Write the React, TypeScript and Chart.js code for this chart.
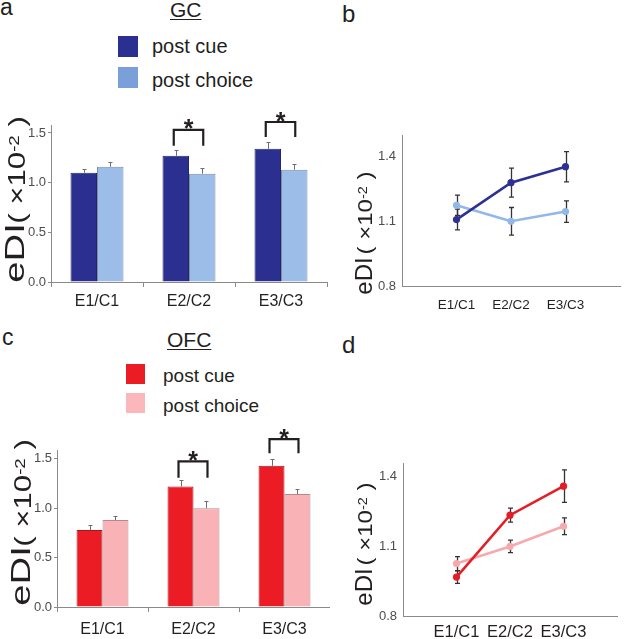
import React, { useEffect, useRef } from 'react';
import { Chart, registerables } from 'chart.js';
Chart.register(...registerables);

const FONT = "'Liberation Sans', Arial, Helvetica, sans-serif";

// ---------- data ----------
const categories = ['E1/C1', 'E2/C2', 'E3/C3'];
const seriesNames = ['post cue', 'post choice'];

// GC – bar panel (a)
const gcCueBar = [1.10, 1.27, 1.34];
const gcChoiceBar = [1.16, 1.09, 1.13];
const gcCueBarErr = [0.04, 0.06, 0.07];
const gcChoiceBarErr = [0.05, 0.06, 0.06];
// GC – line panel (b)
const gcCueLine = [1.108, 1.279, 1.353];
const gcChoiceLine = [1.174, 1.10, 1.145];
const gcCueLineErr = [0.048, 0.067, 0.07];
const gcChoiceLineErr = [0.047, 0.064, 0.05];

// OFC – bar panel (c)
const ofcCueBar = [0.78, 1.22, 1.43];
const ofcChoiceBar = [0.88, 1.00, 1.145];
const ofcCueBarErr = [0.05, 0.07, 0.07];
const ofcChoiceBarErr = [0.045, 0.07, 0.045];
// OFC – line panel (d)
const ofcCueLine = [0.968, 1.235, 1.36];
const ofcChoiceLine = [1.026, 1.10, 1.187];
const ofcCueLineErr = [0.027, 0.03, 0.07];
const ofcChoiceLineErr = [0.03, 0.027, 0.036];

// tick values
const barTicks = [0, 0.5, 1.0, 1.5];
const lineTicks = [0.8, 1.1, 1.4];

// significance brackets (category index, leg base, bracket top, star level) in data units
const gcBrackets = [
  { index: 1, base: 1.37, top: 1.53, star: 1.60 },
  { index: 2, base: 1.46, top: 1.61, star: 1.67 },
];
const ofcBrackets = [
  { index: 1, base: 1.31, top: 1.475, star: 1.54 },
  { index: 2, base: 1.557, top: 1.70, star: 1.76 },
];

// ---------- plugins ----------
const barErrPlugin = {
  id: 'barErr',
  afterDatasetsDraw(chart: any) {
    const ctx = chart.ctx;
    const ys = chart.scales.y;
    chart.data.datasets.forEach((ds: any, i: number) => {
      const meta = chart.getDatasetMeta(i);
      meta.data.forEach((el: any, j: number) => {
        const v = ds.data[j];
        const e = ds.errors[j];
        const x = Math.round(el.x) + 0.5;
        const y0 = ys.getPixelForValue(v);
        const y1 = Math.round(ys.getPixelForValue(v + e)) + 0.5;
        ctx.save();
        ctx.strokeStyle = '#6d6e71';
        ctx.lineWidth = 1;
        ctx.beginPath();
        ctx.moveTo(x, y0);
        ctx.lineTo(x, y1);
        ctx.moveTo(x - 2, y1);
        ctx.lineTo(x + 2, y1);
        ctx.stroke();
        ctx.restore();
      });
    });
  },
};

const bracketPlugin = {
  id: 'brackets',
  afterDraw(chart: any, _args: any, opts: any) {
    const items = opts.items || [];
    const ctx = chart.ctx;
    const ys = chart.scales.y;
    const m0 = chart.getDatasetMeta(0);
    const m1 = chart.getDatasetMeta(1);
    items.forEach((b: any) => {
      const x0 = m0.data[b.index].x - 2;
      const x1 = m1.data[b.index].x + 1;
      const yb = ys.getPixelForValue(b.base);
      const yt = ys.getPixelForValue(b.top);
      ctx.save();
      ctx.strokeStyle = '#231f20';
      ctx.lineWidth = 2.2;
      ctx.lineJoin = 'miter';
      ctx.beginPath();
      ctx.moveTo(x0, yb);
      ctx.lineTo(x0, yt);
      ctx.lineTo(x1, yt);
      ctx.lineTo(x1, yb);
      ctx.stroke();
      const size = 25;
      ctx.font = `bold ${size}px ${FONT}`;
      ctx.fillStyle = '#231f20';
      ctx.textAlign = 'center';
      ctx.textBaseline = 'alphabetic';
      const ys2 = ys.getPixelForValue(b.star);
      ctx.fillText('*', (x0 + x1) / 2, ys2 + 0.57 * size);
      ctx.restore();
    });
  },
};

const lineErrPlugin = {
  id: 'lineErr',
  beforeDatasetsDraw(chart: any) {
    const ctx = chart.ctx;
    const ys = chart.scales.y;
    chart.data.datasets.forEach((ds: any, i: number) => {
      const meta = chart.getDatasetMeta(i);
      meta.data.forEach((el: any, j: number) => {
        const v = ds.data[j].y;
        const e = ds.errors[j];
        const x = Math.round(el.x) + 0.5;
        const ya = ys.getPixelForValue(v + e);
        const yb = ys.getPixelForValue(v - e);
        ctx.save();
        ctx.strokeStyle = '#333333';
        ctx.lineWidth = 1.3;
        ctx.beginPath();
        ctx.moveTo(x, ya);
        ctx.lineTo(x, yb);
        ctx.moveTo(x - 2.5, ya);
        ctx.lineTo(x + 2.5, ya);
        ctx.moveTo(x - 2.5, yb);
        ctx.lineTo(x + 2.5, yb);
        ctx.stroke();
        ctx.restore();
      });
    });
  },
};

// ---------- chart builders ----------
const AXIS = '#8a8a8a';

function barConfig(s: any) {
  return {
    type: 'bar',
    data: {
      labels: categories,
      datasets: [
        {
          label: seriesNames[0], data: s.cue, errors: s.cueErr,
          backgroundColor: s.c1, borderColor: s.b1, borderWidth: 1,
          categoryPercentage: s.catPct, barPercentage: 1,
        },
        {
          label: seriesNames[1], data: s.choice, errors: s.choiceErr,
          backgroundColor: s.c2, borderColor: s.b2, borderWidth: 1,
          categoryPercentage: s.catPct, barPercentage: 1,
        },
      ],
    },
    options: {
      responsive: false,
      animation: false,
      events: [],
      layout: { padding: { left: 0, top: s.pt, right: s.pr, bottom: 0 } },
      plugins: {
        legend: { display: false },
        tooltip: { enabled: false },
        brackets: { items: s.brackets },
      },
      scales: {
        x: {
          type: 'category',
          offset: true,
          grid: { display: true, offset: true, drawOnChartArea: false, drawTicks: true, tickLength: 5, color: AXIS },
          border: { display: true, color: AXIS, width: 1 },
          ticks: { font: { family: FONT, size: s.xFont }, color: '#231f20', padding: s.xPad, maxRotation: 0, autoSkip: false },
          afterFit: (sc: any) => { sc.height = s.xH; },
        },
        y: {
          min: 0,
          max: s.yMax,
          afterBuildTicks: (sc: any) => { sc.ticks = barTicks.map((v) => ({ value: v })); },
          grid: { display: true, drawOnChartArea: false, drawTicks: true, tickLength: 3, color: AXIS },
          border: { display: true, color: AXIS, width: 1 },
          ticks: { font: { family: FONT, size: 13 }, color: '#4d4d4d', padding: 2, callback: (v: any) => Number(v).toFixed(1) },
          afterFit: (sc: any) => { sc.width = s.yW; },
        },
      },
    },
    plugins: [barErrPlugin, bracketPlugin],
  };
}

function lineConfig(s: any) {
  const mk = (vals: number[]) => vals.map((v, i) => ({ x: i + 1, y: v }));
  return {
    type: 'line',
    data: {
      datasets: [
        {
          label: seriesNames[0], data: mk(s.cue), errors: s.cueErr,
          borderColor: s.c1, backgroundColor: s.c1, pointBackgroundColor: s.c1,
          pointRadius: 3.6, pointBorderWidth: 0, borderWidth: 2.6, tension: 0,
        },
        {
          label: seriesNames[1], data: mk(s.choice), errors: s.choiceErr,
          borderColor: s.c2, backgroundColor: s.c2, pointBackgroundColor: s.c2,
          pointRadius: 3.6, pointBorderWidth: 0, borderWidth: 2.6, tension: 0,
        },
      ],
    },
    options: {
      responsive: false,
      animation: false,
      events: [],
      layout: { padding: { left: 0, top: s.pt, right: s.pr, bottom: 0 } },
      plugins: { legend: { display: false }, tooltip: { enabled: false } },
      scales: {
        x: {
          type: 'linear',
          min: 0,
          max: categories.length + 1,
          afterBuildTicks: (sc: any) => { sc.ticks = categories.map((_, i) => ({ value: i + 1 })); },
          grid: { display: false, drawTicks: false },
          border: { display: true, color: AXIS, width: 1 },
          ticks: { font: { family: FONT, size: s.xFont }, color: '#231f20', padding: s.xPad, maxRotation: 0, autoSkip: false, callback: (v: any) => categories[Math.round(v) - 1] },
          afterFit: (sc: any) => { sc.height = s.xH; },
        },
        y: {
          min: 0.8,
          max: s.yMax,
          afterBuildTicks: (sc: any) => { sc.ticks = lineTicks.map((v) => ({ value: v })); },
          grid: { display: false, drawTicks: false },
          border: { display: true, color: AXIS, width: 1 },
          ticks: { font: { family: FONT, size: 13 }, color: '#4d4d4d', padding: 6, callback: (v: any) => Number(v).toFixed(1) },
          afterFit: (sc: any) => { sc.width = s.yW; },
        },
      },
    },
    plugins: [lineErrPlugin],
  };
}

// ---------- text helpers ----------
const ASC = 0.8465;
const T = ({ x, y, size, children, style }: any) => (
  <div style={{ position: 'absolute', left: x, top: y - ASC * size, fontSize: size, lineHeight: 1, fontFamily: FONT, whiteSpace: 'nowrap', color: '#231f20', ...style }}>{children}</div>
);
const VT = ({ bx, cy, size, children, sx = 1 }: any) => (
  <div style={{ position: 'absolute', left: bx - ASC * size, top: cy, fontSize: size, lineHeight: 1, fontFamily: FONT, whiteSpace: 'nowrap', color: '#231f20', transformOrigin: '0 0', transform: `rotate(-90deg) scaleX(${sx}) translateX(-50%)` }}>{children}</div>
);
const Unit = () => (
  <span>( ×10<span style={{ position: 'relative', top: '-0.45em', fontSize: '0.6em' }}>-2</span> )</span>
);
const Sq = ({ x, y, w, h, c }: any) => (
  <div style={{ position: 'absolute', left: x, top: y, width: w, height: h, background: c }} />
);

export default function App() {
  const aRef = useRef<HTMLCanvasElement>(null);
  const bRef = useRef<HTMLCanvasElement>(null);
  const cRef = useRef<HTMLCanvasElement>(null);
  const dRef = useRef<HTMLCanvasElement>(null);

  useEffect(() => {
    const charts: Chart[] = [];
    charts.push(new Chart(aRef.current as any, barConfig({
      cue: gcCueBar, choice: gcChoiceBar, cueErr: gcCueBarErr, choiceErr: gcChoiceBarErr,
      c1: '#2b3090', b1: '#22266b', c2: '#9cbde8', b2: '#7d8ca6',
      brackets: gcBrackets, catPct: 0.576, yMax: 1.58,
      yW: 51, pt: 25, pr: 3, xH: 38, xFont: 16, xPad: 5,
    }) as any));
    charts.push(new Chart(bRef.current as any, lineConfig({
      cue: gcCueLine, choice: gcChoiceLine, cueErr: gcCueLineErr, choiceErr: gcChoiceLineErr,
      c1: '#2e3192', c2: '#92b7e9', yMax: 1.5,
      yW: 72, pt: 35, pr: 1, xH: 34, xFont: 13.5, xPad: 11,
    }) as any));
    charts.push(new Chart(cRef.current as any, barConfig({
      cue: ofcCueBar, choice: ofcChoiceBar, cueErr: ofcCueBarErr, choiceErr: ofcChoiceBarErr,
      c1: '#ec1c24', b1: '#a01a1f', c2: '#f9b3b7', b2: '#b8898c',
      brackets: ofcBrackets, catPct: 0.571, yMax: 1.59,
      yW: 57, pt: 30, pr: 0, xH: 32, xFont: 16, xPad: 8,
    }) as any));
    charts.push(new Chart(dRef.current as any, lineConfig({
      cue: ofcCueLine, choice: ofcChoiceLine, cueErr: ofcCueLineErr, choiceErr: ofcChoiceLineErr,
      c1: '#e41e26', c2: '#f6aaae', yMax: 1.46,
      yW: 73, pt: 43, pr: 7, xH: 23, xFont: 16.5, xPad: 7,
    }) as any));
    return () => charts.forEach((c) => c.destroy());
  }, []);

  const cv = (l: number, t: number, w: number, h: number) => ({ position: 'absolute' as const, left: l, top: t, width: w, height: h });

  return (
    <div style={{ position: 'absolute', left: 0, top: 0, width: 624, height: 639, background: '#fff', overflow: 'hidden', fontFamily: FONT }}>
      <canvas ref={aRef} width={330} height={220} style={cv(0, 100, 330, 220)} />
      <canvas ref={bRef} width={294} height={220} style={cv(330, 100, 294, 220)} />
      <canvas ref={cRef} width={330} height={219} style={cv(0, 420, 330, 219)} />
      <canvas ref={dRef} width={294} height={219} style={cv(330, 420, 294, 219)} />

      {/* panel letters */}
      <T x={0} y={15} size={23}>a</T>
      <T x={342} y={22} size={24}>b</T>
      <T x={2} y={345} size={23}>c</T>
      <T x={342} y={353} size={24}>d</T>

      {/* panel a header + legend */}
      <T x={170} y={17} size={21} style={{ textDecoration: 'underline', textUnderlineOffset: '2px', textDecorationThickness: '1px' }}>GC</T>
      <Sq x={118} y={36} w={20} h={21} c="#2b3090" />
      <Sq x={118} y={67} w={20} h={21} c="#7b9fd9" />
      <T x={152} y={53} size={20}>{seriesNames[0]}</T>
      <T x={152} y={87} size={20}>{seriesNames[1]}</T>

      {/* panel c header + legend */}
      <T x={167} y={347} size={21} style={{ textDecoration: 'underline', textUnderlineOffset: '2px', textDecorationThickness: '1px' }}>OFC</T>
      <Sq x={126} y={364} w={19} h={20} c="#ec1c24" />
      <Sq x={126} y={393} w={19} h={20} c="#fbb7bb" />
      <T x={163} y={382} size={19}>{seriesNames[0]}</T>
      <T x={163} y={412} size={19}>{seriesNames[1]}</T>

      {/* y-axis titles */}
      <VT bx={25} cy={253} size={27} sx={1.42}>eDI</VT>
      <VT bx={25} cy={170} size={24} sx={1.3}><Unit /></VT>
      <VT bx={31} cy={576} size={27} sx={1.42}>eDI</VT>
      <VT bx={31} cy={493} size={24} sx={1.3}><Unit /></VT>
      <VT bx={372} cy={276} size={24}>eDI</VT>
      <VT bx={372} cy={213} size={20} sx={1.2}><Unit /></VT>
      <VT bx={372} cy={587} size={24}>eDI</VT>
      <VT bx={372} cy={524} size={20} sx={1.2}><Unit /></VT>
    </div>
  );
}
